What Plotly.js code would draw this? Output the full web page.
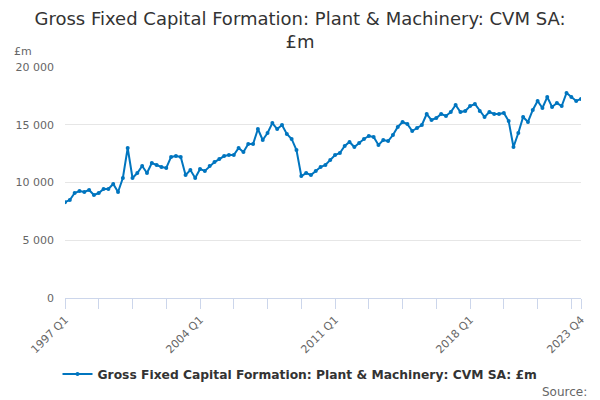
<!DOCTYPE html>
<html>
<head>
<meta charset="utf-8">
<script src="https://cdn.plot.ly/plotly-3.0.1.min.js"></script>
<style>
  html, body { margin: 0; padding: 0; background: #fff; }
  #chart { width: 600px; height: 400px; }
</style>
</head>
<body>
<div id="chart"></div>
<script>
// Quarterly series, 1997 Q1 .. 2023 Q4 (£m)
const firstYear = 1997;
const lastYear  = 2023;

const plantMachinery = [
  8300, 8480, 9090, 9260, 9180, 9350, 8920, 9090, 9440, 9440, 9870, 9180,
  10390, 12990, 10390, 10820, 11430, 10820, 11690, 11520, 11340, 11260, 12210, 12290,
  12210, 10650, 11080, 10390, 11170, 11000, 11430, 11770, 12030, 12290, 12380, 12380,
  12990, 12640, 13330, 13330, 14630, 13680, 14290, 15150, 14630, 14980, 14200, 13770,
  12810, 10560, 10820, 10650, 11000, 11340, 11520, 11950, 12380, 12550, 13160, 13510,
  13070, 13420, 13770, 14030, 13940, 13250, 13680, 13590, 14110, 14810, 15240, 15060,
  14460, 14720, 14980, 15930, 15410, 15580, 15930, 15760, 16100, 16710, 16100, 16190,
  16620, 16800, 16190, 15670, 16100, 15930, 15930, 16020, 15320, 13070, 14290, 15670,
  15240, 16280, 17060, 16450, 17400, 16540, 16880, 16620, 17750, 17400, 17060, 17230
];

const seriesName = 'Gross Fixed Capital Formation: Plant & Machinery: CVM SA: £m';
const yTicks = [0, 5000, 10000, 15000, 20000];
const labelledQuarters = ['1997 Q1', '2004 Q1', '2011 Q1', '2018 Q1', '2023 Q4'];

// category labels "YYYY Qn"
const quarters = [];
for (let y = firstYear; y <= lastYear; y++) {
  for (let q = 1; q <= 4; q++) quarters.push(y + ' Q' + q);
}

// tick every 7 quarters, plus the final quarter
const tickVals = [];
for (let i = 0; i < quarters.length - 1; i += 7) tickVals.push(quarters[i]);
tickVals.push(quarters[quarters.length - 1]);
const tickText = tickVals.map(q => labelledQuarters.includes(q) ? q : '');

const FONT = 'DejaVu Sans, Verdana, sans-serif';

const trace = {
  x: quarters,
  y: plantMachinery,
  type: 'scatter',
  mode: 'lines+markers',
  name: seriesName,
  line: { color: '#0075bf', width: 2 },
  marker: { color: '#0075bf', size: 4 },
  hoverinfo: 'x+y',
};

const layout = {
  width: 600,
  height: 400,
  paper_bgcolor: '#ffffff',
  plot_bgcolor: '#ffffff',
  font: { family: FONT, size: 11, color: '#666666' },
  separators: '. ',
  margin: { l: 65, r: 19, t: 67, b: 102, pad: 0 },
  title: {
    text: 'Gross Fixed Capital Formation: Plant & Machinery: CVM SA:<br>£m',
    font: { family: FONT, size: 18, color: '#333333' },
    x: 0.5, xanchor: 'center', xref: 'container',
    y: 0.9375, yanchor: 'middle', yref: 'container',
  },
  showlegend: true,
  legend: {
    orientation: 'h',
    x: 0.5, xanchor: 'center', xref: 'container',
    y: 0.065, yanchor: 'middle', yref: 'container',
    font: { family: FONT, size: 12.3, color: '#333333', weight: 'bold' },
  },
  xaxis: {
    type: 'category',
    range: [0, quarters.length - 1],
    tickmode: 'array',
    tickvals: tickVals,
    ticktext: tickText,
    tickangle: -45,
    ticks: 'outside',
    ticklen: 10,
    tickcolor: '#ccd6eb',
    showline: true,
    linecolor: '#ccd6eb',
    linewidth: 1,
    showgrid: false,
    zeroline: false,
    tickfont: { family: FONT, size: 11, color: '#666666' },
    fixedrange: true,
  },
  yaxis: {
    range: [0, 20000],
    tickmode: 'array',
    tickvals: yTicks,
    tickformat: ',d',
    showgrid: true,
    gridcolor: '#e6e6e6',
    gridwidth: 1,
    zeroline: false,
    showline: false,
    ticks: '',
    ticklabelstandoff: 10,
    tickfont: { family: FONT, size: 11, color: '#666666' },
    fixedrange: true,
  },
  annotations: [
    {
      text: '£m',
      xref: 'paper', yref: 'paper',
      x: -0.103, y: 1.065,
      xanchor: 'left', yanchor: 'middle',
      showarrow: false,
      font: { family: FONT, size: 11, color: '#666666' },
    },
    {
      text: 'Source:',
      xref: 'paper', yref: 'paper',
      x: 1.0155, y: -0.408,
      xanchor: 'right', yanchor: 'middle',
      showarrow: false,
      font: { family: FONT, size: 12, color: '#666666' },
    },
  ],
};

Plotly.newPlot('chart', [trace], layout, { displayModeBar: false, staticPlot: true });
</script>
</body>
</html>
